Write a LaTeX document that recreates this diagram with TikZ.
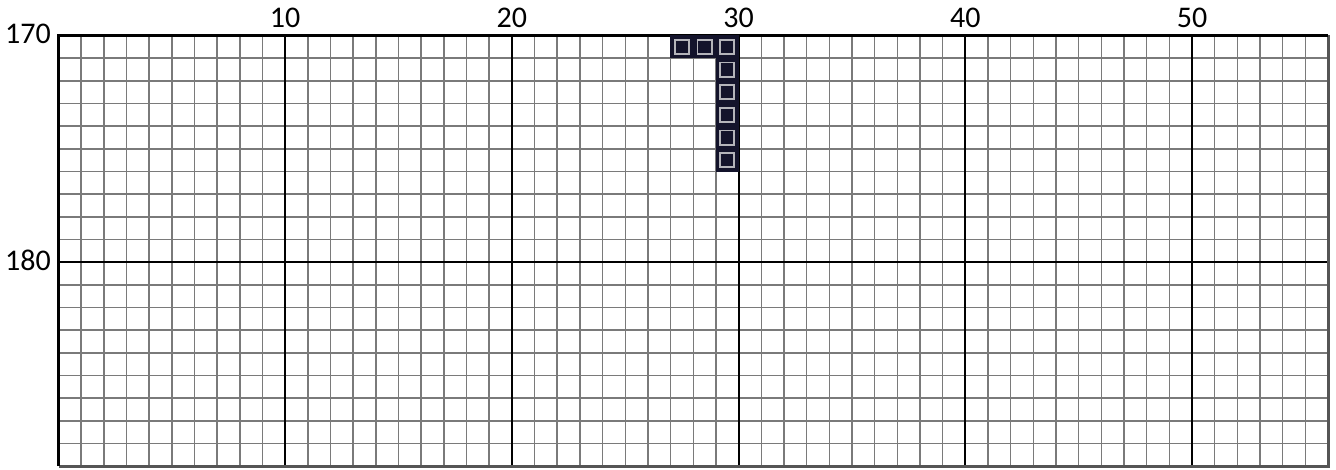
\documentclass[tikz,border=0pt]{standalone}
\usepackage{fontspec}
\setmainfont{Carlito}
\definecolor{minorgray}{HTML}{7A7A7A}
\definecolor{bordergray}{HTML}{555555}
\definecolor{cellbg}{HTML}{13132B}
\definecolor{cellline}{HTML}{B4B4BA}
\begin{document}
\begin{tikzpicture}[x=1pt,y=-1pt,
  minorline/.style={draw=minorgray,line width=1.5pt},
  majorline/.style={draw=black,line width=2.2pt},
  edgedark/.style={draw=black,line width=2.6pt},
  edgegray/.style={draw=bordergray,line width=3pt},
  axislabel/.style={inner sep=0pt,font=\fontsize{30}{34}\selectfont},
  cellouter/.style={fill=cellbg,minimum size=22.9pt,inner sep=0pt},
  cellring/.style={fill=cellline},
  cellcore/.style={fill=cellbg}]
\useasboundingbox (0,0) rectangle (1336,470);
\def\ox{58.5}\def\oy{35.5}\def\cw{22.67}
% minor grid
\foreach \i in {0,...,56} \draw[minorline] ({\ox+\i*\cw},\oy) -- ++(0,{19*\cw});
\foreach \j in {0,...,19} \draw[minorline] (\ox,{\oy+\j*\cw}) -- ++({56*\cw},0);
% major grid
\foreach \i in {10,20,30,40,50} \draw[majorline] ({\ox+\i*\cw},\oy) -- ++(0,{19*\cw});
\draw[majorline] (\ox,{\oy+10*\cw}) -- ++({56*\cw},0);
% borders
\draw[edgegray] ({\ox+56*\cw},\oy) -- ({\ox+56*\cw},{\oy+19*\cw}) -- (\ox,{\oy+19*\cw});
\draw[edgedark] (\ox,{\oy+19*\cw}) -- (\ox,\oy) -- ({\ox+56*\cw},\oy);
% filled cells
\foreach \c/\r/\n in {27/0/a,28/0/b,29/0/c,29/1/d,29/2/e,29/3/f,29/4/g,29/5/h}
  \node[cellouter] (cell\n) at ({\ox+(\c+0.5)*\cw},{\oy+(\r+0.5)*\cw}) {};
\foreach \n in {a,b,c,d,e,f,g,h}{
  \fill[cellring] (cell\n.center) ++(-8,-8) rectangle ++(16,16);
  \fill[cellcore] (cell\n.center) ++(-6.2,-6.2) rectangle ++(12.4,12.4);
}
% labels
\node[axislabel,anchor=base east] (row170) at (51,{\oy+8}) {170};
\node[axislabel,anchor=base east] (row180) at (51,{\oy+10*\cw+8}) {180};
\foreach \k in {10,20,30,40,50}
  \node[axislabel,anchor=base] (col\k) at ({\ox+\k*\cw},27.5) {\k};
\end{tikzpicture}
\end{document}
